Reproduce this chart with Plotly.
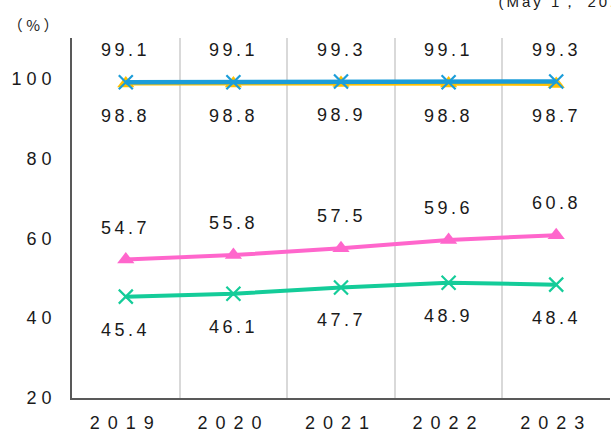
import plotly.graph_objects as go

years = ["2019", "2020", "2021", "2022", "2023"]
series_blue = [99.1, 99.1, 99.3, 99.1, 99.3]
series_yellow = [98.8, 98.8, 98.9, 98.8, 98.7]
series_pink = [54.7, 55.8, 57.5, 59.6, 60.8]
series_green = [45.4, 46.1, 47.7, 48.9, 48.4]
y_ticks = [20, 40, 60, 80, 100]

BLUE = "#1b9dd9"
YELLOW = "#ffc000"
PINK = "#ff66cc"
GREEN = "#14cc99"
FONT = "Liberation Sans, Arial, sans-serif"

fig = go.Figure()

def add_series(vals, color, symbol, size, width):
    is_x = symbol.startswith("x")
    fig.add_trace(go.Scatter(
        x=years, y=vals, mode="lines+markers",
        line=dict(color=color, width=width),
        marker=dict(symbol=symbol, size=size, color=color,
                    line=dict(color=color, width=2.2 if is_x else 0)),
        showlegend=False, hoverinfo="skip", cliponaxis=False,
    ))

add_series(series_yellow, YELLOW, "triangle-up", 15, 4)
add_series(series_blue, BLUE, "x-thin", 14, 4.5)
add_series(series_pink, PINK, "triangle-up", 15, 4)
add_series(series_green, GREEN, "x-thin", 14, 4)

annotations = []
for vals, shift in [(series_blue, 32), (series_yellow, -32), (series_pink, 32), (series_green, -33)]:
    for i, yv in enumerate(vals):
        annotations.append(dict(
            x=i, y=yv, xref="x", yref="y", text=f"{yv:.1f}", showarrow=False,
            yshift=shift, font=dict(family=FONT, size=18, color="#1a1a1a"),
        ))

annotations.append(dict(
    x=-61 / 538, y=1 + 13 / 360, xref="paper", yref="paper", xanchor="left", yanchor="middle",
    text="（%）", showarrow=False,
    font=dict(family="Noto Sans CJK JP, sans-serif", size=15, color="#1a1a1a"),
))
annotations.append(dict(
    x=(516 - 72) / 538, y=1 + 36 / 360, xref="paper", yref="paper", xanchor="left", yanchor="middle",
    text="(May 1， 2023)", showarrow=False,
    font=dict(family=FONT, size=15, color="#1a1a1a"),
))

fig.update_layout(
    width=611, height=435,
    margin=dict(l=72, r=1, t=38, b=37),
    paper_bgcolor="white", plot_bgcolor="white",
    font=dict(family=FONT, size=18, color="#1a1a1a"),
    annotations=annotations,
    xaxis=dict(
        type="category", tickson="boundaries", showgrid=True,
        gridcolor="#d9d9d9", gridwidth=2, ticks="",
        showline=True, linecolor="#595959", linewidth=1.5,
        range=[-0.5, 4.5], tickfont=dict(size=18), ticklabelstandoff=8,
        zeroline=False,
    ),
    yaxis=dict(
        range=[20, 110.2], tickvals=y_ticks, showgrid=False, zeroline=False,
        showline=True, linecolor="#595959", linewidth=1.5, ticks="",
        tickfont=dict(size=18), ticklabelstandoff=10,
    ),
)

post = """
var s = document.createElement('style');
s.textContent = 'html,body{margin:0;padding:0;overflow:hidden} .xtick text{letter-spacing:8px} .ytick text{letter-spacing:5px} .annotation-text{letter-spacing:3.5px} .annotation[data-index="21"] .annotation-text{letter-spacing:3px}';
document.head.appendChild(s);
"""
fig.write_html("out.html", post_script=post, config={"displayModeBar": False})
